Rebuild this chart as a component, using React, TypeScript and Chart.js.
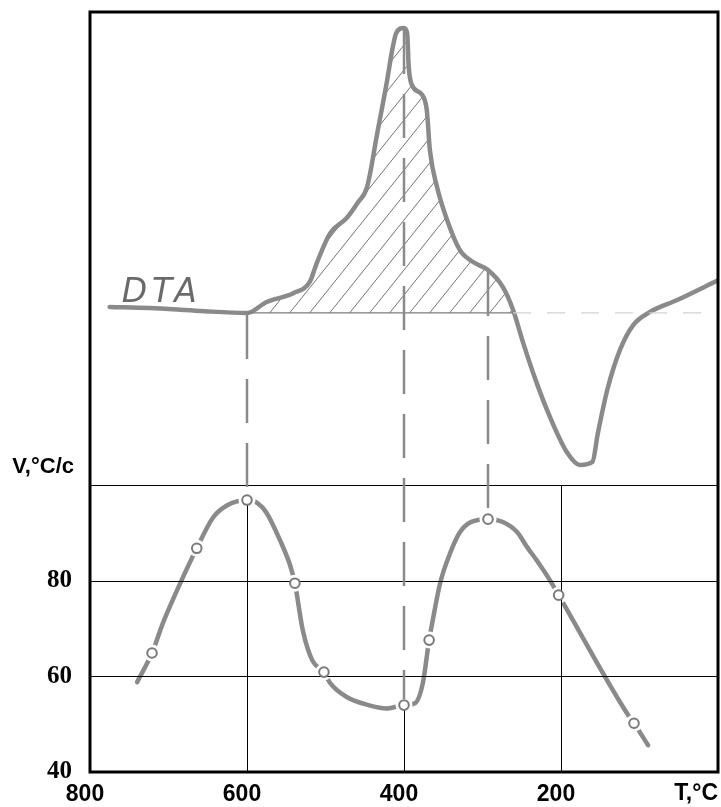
import React, { useEffect, useRef } from 'react';
import { Chart, registerables } from 'chart.js';

Chart.register(...registerables);

// ---- axis ticks ----
const xTickValues = [800, 600, 400, 200];
const yTickValues = [40, 60, 80, 100];
const yTickLabels = ['40', '60', '80', ''];
const yGridValues = [60, 80, 100];
const xGridTemps = [600, 400, 200];
const xAxisTitle = 'T,°C';
const yAxisTitle = 'V,°C/c';
const dtaLabel = 'DTA';

// ---- DTA curve (arbitrary units, hidden axis 0..100) ----
const dtaTemps = [775, 724, 660, 600, 575, 541, 520, 511, 494, 473, 459, 447, 434, 422, 415, 410, 400, 396, 394, 390, 377, 371, 367, 358, 345, 329, 312, 293, 274, 261, 248, 231, 214, 192, 176, 160, 153, 141, 125, 108, 87, 52, 0];
const dtaValues = [61.2, 61.05, 60.66, 60.4, 61.84, 63.0, 64.5, 67.0, 70.9, 72.9, 74.9, 77.0, 84.1, 90.7, 95.0, 97.2, 97.9, 97.2, 92.8, 90.4, 89.1, 87.1, 81.8, 77.0, 72.6, 68.7, 67.1, 66.05, 63.8, 60.8, 56.4, 51.2, 46.7, 42.0, 40.4, 40.8, 44.6, 50.3, 55.5, 58.8, 60.5, 62.1, 64.7];
const dtaBase = 60.4;
const hatchFrom = 600;
const hatchTo = 261;

// ---- V curve ----
const vTemps = [740, 721, 707, 685, 664, 643, 625, 600, 587, 575, 558, 545, 539, 529, 517, 502, 494, 473, 443, 422, 400, 386, 376, 368, 364, 354, 341, 329, 316, 293, 274, 256, 243, 231, 214, 203, 116, 107, 89];
const vValues = [58.8, 64.9, 71.2, 79.5, 86.8, 93.3, 95.8, 96.9, 96.3, 94.2, 88.5, 83.2, 79.5, 69.7, 63.4, 60.9, 58.6, 55.7, 53.9, 53.3, 54.0, 54.4, 58.6, 67.6, 71.2, 79.5, 85.9, 90.1, 92.2, 92.9, 92.3, 90.2, 87.0, 84.3, 80.1, 77.0, 52.3, 50.2, 45.6];

// ---- measured points (circles) ----
const mTemps = [721, 664, 600, 539, 502, 400, 368, 293, 203, 107];
const mValues = [64.9, 86.8, 96.9, 79.5, 60.9, 54.0, 67.6, 92.9, 77.0, 50.2];

// ---- dashed connectors DTA -> V ----
const connTemps = [600, 400, 293];

const GREY = '#8a8a8a';

function makeHatch(ctx: CanvasRenderingContext2D) {
  const w = 20, h = 25;
  const c = document.createElement('canvas');
  c.width = w; c.height = h;
  const g = c.getContext('2d')!;
  g.strokeStyle = '#737373';
  g.lineWidth = 1;
  g.beginPath();
  for (let n = -1; n <= 1; n++) {
    g.moveTo(-3, h + n * h + (3 * h) / w);
    g.lineTo(w + 3, n * h - (3 * h) / w);
  }
  g.stroke();
  return ctx.createPattern(c, 'repeat');
}

const overlayPlugin = {
  id: 'overlay',
  afterDatasetDraw(chart: any, args: any) {
    if (args.index !== 1) return;
    const { ctx, chartArea } = chart;
    const xs = chart.scales.x, ys = chart.scales.y, yd = chart.scales.yd;
    const line = (x1: number, y1: number, x2: number, y2: number) => {
      ctx.beginPath(); ctx.moveTo(x1, y1); ctx.lineTo(x2, y2); ctx.stroke();
    };
    ctx.save();
    // DTA baseline
    const by = yd.getPixelForValue(dtaBase);
    ctx.strokeStyle = '#7c7c7c'; ctx.lineWidth = 1.2;
    line(xs.getPixelForValue(hatchFrom), by, xs.getPixelForValue(hatchTo), by);
    ctx.strokeStyle = '#d2d2d2'; ctx.setLineDash([18, 16]);
    line(xs.getPixelForValue(hatchTo), by, chartArea.right, by);
    // grid
    ctx.setLineDash([]);
    ctx.strokeStyle = '#000'; ctx.lineWidth = 1;
    yGridValues.forEach(v => {
      const y = Math.round(ys.getPixelForValue(v)) + 0.5;
      line(chartArea.left, y, chartArea.right, y);
    });
    xGridTemps.forEach(t => {
      const mi = mTemps.indexOf(t);
      const top = mi >= 0 ? mValues[mi] : 100;
      const x = Math.round(xs.getPixelForValue(t)) + 0.5;
      line(x, ys.getPixelForValue(top), x, chartArea.bottom);
    });
    // connectors
    ctx.strokeStyle = GREY; ctx.lineWidth = 2.5; ctx.setLineDash([44, 20]);
    connTemps.forEach(t => {
      const di = dtaTemps.indexOf(t);
      const mi = mTemps.indexOf(t);
      const x = xs.getPixelForValue(t);
      line(x, yd.getPixelForValue(dtaValues[di]) + 2, x, ys.getPixelForValue(mValues[mi]) - 6);
    });
    ctx.restore();
  },
  afterDraw(chart: any) {
    const { ctx, chartArea } = chart;
    const xs = chart.scales.x, ys = chart.scales.y, yd = chart.scales.yd;
    ctx.save();
    // frame
    ctx.strokeStyle = '#000'; ctx.lineWidth = 3;
    ctx.strokeRect(chartArea.left, chartArea.top, chartArea.right - chartArea.left, chartArea.bottom - chartArea.top);
    // axis titles
    ctx.fillStyle = '#000';
    ctx.font = 'bold 22px "Liberation Sans"';
    ctx.textAlign = 'right'; ctx.textBaseline = 'middle';
    ctx.fillText(yAxisTitle, chartArea.left - 16, ys.getPixelForValue(100) - 18);
    ctx.font = 'bold 23px "Liberation Sans"';
    ctx.fillText(xAxisTitle, chartArea.right, chartArea.bottom + 22);
    // DTA label
    ctx.fillStyle = '#6a6a6a';
    ctx.font = 'italic 33px "DejaVu Sans"';
    (ctx as any).letterSpacing = '5px';
    ctx.textAlign = 'left'; ctx.textBaseline = 'alphabetic';
    ctx.fillText(dtaLabel, xs.getPixelForValue(dtaTemps[0]) + 12, yd.getPixelForValue(dtaValues[0]) - 5);
    (ctx as any).letterSpacing = '0px';
    ctx.restore();
  },
};

export default function App() {
  const ref = useRef<HTMLCanvasElement>(null);
  useEffect(() => {
    document.body.style.margin = '0';
    const canvas = ref.current!;
    const ctx = canvas.getContext('2d')!;
    const hatch = makeHatch(ctx);
    const hatchTemps: number[] = [];
    const hatchValues: number[] = [];
    dtaTemps.forEach((t, i) => {
      if (t <= hatchFrom && t >= hatchTo) { hatchTemps.push(t); hatchValues.push(dtaValues[i]); }
    });
    const chart = new Chart(ctx, {
      type: 'line',
      data: {
        datasets: [
          {
            label: 'points',
            data: mTemps.map((t, i) => ({ x: t, y: mValues[i] })),
            yAxisID: 'y', showLine: false, order: 0,
            pointRadius: 4.8, pointBackgroundColor: '#fff', pointBorderColor: '#7a7a7a', pointBorderWidth: 2,
          },
          {
            label: 'halo',
            data: mTemps.map((t, i) => ({ x: t, y: mValues[i] })),
            yAxisID: 'y', showLine: false, order: 1,
            pointRadius: 8.5, pointBackgroundColor: '#fff', pointBorderWidth: 0, pointBorderColor: '#fff',
          },
          {
            label: 'V',
            data: vTemps.map((t, i) => ({ x: t, y: vValues[i] })),
            yAxisID: 'y', order: 2,
            borderColor: GREY, borderWidth: 4.5, pointRadius: 0, cubicInterpolationMode: 'monotone',
            borderCapStyle: 'round', borderJoinStyle: 'round',
          },
          {
            label: 'DTA',
            data: dtaTemps.map((t, i) => ({ x: t, y: dtaValues[i] })),
            yAxisID: 'yd', order: 3,
            borderColor: GREY, borderWidth: 4.5, pointRadius: 0, cubicInterpolationMode: 'monotone',
            borderCapStyle: 'round', borderJoinStyle: 'round',
          },
          {
            label: 'hatch',
            data: hatchTemps.map((t, i) => ({ x: t, y: hatchValues[i] })),
            yAxisID: 'yd', order: 4,
            borderWidth: 0, borderColor: 'rgba(0,0,0,0)', pointRadius: 0, cubicInterpolationMode: 'monotone',
            fill: { value: dtaBase }, backgroundColor: hatch as any,
          },
        ] as any,
      },
      options: {
        responsive: false,
        animation: false,
        layout: { autoPadding: false, padding: { top: 12, right: 3, left: 0, bottom: 0 } },
        plugins: { legend: { display: false }, tooltip: { enabled: false } },
        scales: {
          x: {
            type: 'linear', reverse: true, min: 0, max: 800,
            afterBuildTicks: (s: any) => { s.ticks = xTickValues.map(v => ({ value: v })); },
            afterFit: (s: any) => { s.height = 35; s.paddingLeft = 0; s.paddingRight = 0; },
            grid: { display: false, drawTicks: false }, border: { display: false },
            ticks: {
              padding: 9, labelOffset: -5, color: '#000', autoSkip: false, maxRotation: 0,
              font: { family: '"Liberation Sans"', weight: 'bold', size: 23 },
            },
          },
          y: {
            type: 'linear', min: 40, max: 199,
            afterBuildTicks: (s: any) => { s.ticks = yTickValues.map(v => ({ value: v })); },
            afterFit: (s: any) => { s.width = 90; s.paddingTop = 0; s.paddingBottom = 0; },
            grid: { display: false, drawTicks: false }, border: { display: false },
            ticks: {
              padding: 18, color: '#000',
              callback: (v: any) => yTickLabels[yTickValues.indexOf(Number(v))] ?? '',
              font: { family: '"Liberation Serif"', weight: 'bold', size: 25 },
            },
          },
          yd: { type: 'linear', display: false, min: 0, max: 100 },
        },
      } as any,
      plugins: [overlayPlugin],
    });
    return () => chart.destroy();
  }, []);
  return (
    <div style={{ width: 721, height: 807 }}>
      <canvas ref={ref} width={721} height={807} style={{ display: 'block' }} />
    </div>
  );
}
